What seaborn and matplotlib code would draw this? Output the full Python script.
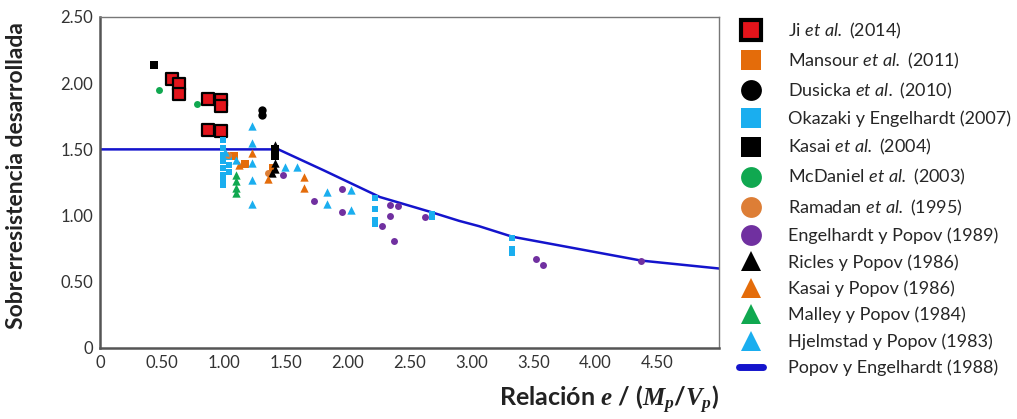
import matplotlib.pyplot as plt
from matplotlib.lines import Line2D
import seaborn as sns

# Ji et al. (2014)
ji_x = [0.58, 0.64, 0.64, 0.87, 0.98, 0.98, 0.87, 0.98]
ji_y = [2.03, 1.99, 1.92, 1.88, 1.87, 1.83, 1.65, 1.64]
# Mansour et al. (2011)
mansour_x = [1.08, 1.17, 1.40]
mansour_y = [1.45, 1.39, 1.36]
# Dusicka et al. (2010)
dusicka_x = [1.31, 1.31]
dusicka_y = [1.80, 1.76]
# Okazaki y Engelhardt (2007)
okazaki_x = [0.99, 0.99, 0.99, 0.99, 0.99, 0.99, 0.99, 0.99, 1.04, 1.04, 1.04,
             2.22, 2.22, 2.22, 2.22, 2.68, 2.68, 3.33, 3.33, 3.33]
okazaki_y = [1.57, 1.51, 1.46, 1.41, 1.36, 1.31, 1.27, 1.23, 1.44, 1.38, 1.33,
             1.13, 1.05, 0.97, 0.94, 0.99, 1.01, 0.83, 0.75, 0.72]
# Kasai et al. (2004)
kasai04_x = [0.44, 1.41, 1.41]
kasai04_y = [2.14, 1.50, 1.45]
# McDaniel et al. (2003)
mcdaniel_x = [0.48, 0.78]
mcdaniel_y = [1.95, 1.84]
# Ramadan et al. (1995)
ramadan_x = [1.03, 1.36]
ramadan_y = [1.46, 1.32]
# Engelhardt y Popov (1989)
engel_x = [1.48, 1.73, 1.95, 1.95, 2.28, 2.34, 2.34, 2.41, 2.37, 2.62, 3.52, 3.58, 4.37]
engel_y = [1.31, 1.11, 1.20, 1.03, 0.92, 1.08, 1.00, 1.07, 0.81, 0.99, 0.67, 0.63, 0.66]
# Ricles y Popov (1986)
ricles_x = [1.41, 1.41, 1.41, 1.39]
ricles_y = [1.53, 1.40, 1.35, 1.32]
# Kasai y Popov (1986)
kasai86_x = [1.23, 1.65, 1.65, 1.36, 1.12]
kasai86_y = [1.47, 1.29, 1.21, 1.28, 1.38]
# Malley y Popov (1984)
malley_x = [1.10, 1.10, 1.10, 1.10]
malley_y = [1.31, 1.26, 1.21, 1.17]
# Hjelmstad y Popov (1983)
hjelm_x = [1.23, 1.23, 1.23, 1.23, 1.23, 1.01, 1.49, 1.59, 1.83, 1.83, 2.03, 2.03, 1.10]
hjelm_y = [1.68, 1.55, 1.40, 1.27, 1.09, 1.48, 1.37, 1.37, 1.18, 1.09, 1.19, 1.04, 1.42]
# Popov y Engelhardt (1988)
popov_x = [0, 1.44, 1.81, 2.26, 2.66, 2.90, 3.06, 3.33, 4.37, 5.0]
popov_y = [1.5, 1.50, 1.34, 1.14, 1.03, 0.96, 0.92, 0.84, 0.66, 0.60]

xticks = [0, 0.5, 1.0, 1.5, 2.0, 2.5, 3.0, 3.5, 4.0, 4.5]
xtick_labels = ['0', '0.50', '1.00', '1.50', '2.00', '2.50', '3.00', '3.50', '4.00', '4.50']
yticks = [0, 0.5, 1.0, 1.5, 2.0, 2.5]
ytick_labels = ['0', '0.50', '1.00', '1.50', '2.00', '2.50']

sns.set_style('white')
plt.rcParams['font.family'] = ['Lato', 'DejaVu Sans']
plt.rcParams['mathtext.fontset'] = 'custom'
plt.rcParams['mathtext.rm'] = 'Lato'
plt.rcParams['mathtext.sf'] = 'Lato:italic'
plt.rcParams['mathtext.it'] = 'Liberation Serif:italic:bold'
plt.rcParams['mathtext.bf'] = 'Lato:bold'

RED = '#E3141B'
ORANGE = '#E46C0A'
ORANGE2 = '#DD7E36'
BLUE_L = '#1AAEEF'
GREEN = '#10A850'
PURPLE = '#7030A0'
LINE = '#1414CC'

series = [
    ('Ji $\\mathsf{et\\ al.}$ (2014)', ji_x, ji_y, 's', RED, 'black', 9, 1.6),
    ('Mansour $\\mathsf{et\\ al.}$ (2011)', mansour_x, mansour_y, 's', ORANGE, ORANGE, 6, 0),
    ('Dusicka $\\mathsf{et\\ al.}$ (2010)', dusicka_x, dusicka_y, 'o', 'black', 'black', 6, 0),
    ('Okazaki y Engelhardt (2007)', okazaki_x, okazaki_y, 's', BLUE_L, BLUE_L, 5, 0),
    ('Kasai $\\mathsf{et\\ al.}$ (2004)', kasai04_x, kasai04_y, 's', 'black', 'black', 6, 0),
    ('McDaniel $\\mathsf{et\\ al.}$ (2003)', mcdaniel_x, mcdaniel_y, 'o', GREEN, GREEN, 5, 0),
    ('Ramadan $\\mathsf{et\\ al.}$ (1995)', ramadan_x, ramadan_y, 'o', ORANGE2, ORANGE2, 5, 0),
    ('Engelhardt y Popov (1989)', engel_x, engel_y, 'o', PURPLE, PURPLE, 5, 0),
    ('Ricles y Popov (1986)', ricles_x, ricles_y, '^', 'black', 'black', 6, 0),
    ('Kasai y Popov (1986)', kasai86_x, kasai86_y, '^', ORANGE, ORANGE, 6, 0),
    ('Malley y Popov (1984)', malley_x, malley_y, '^', GREEN, GREEN, 6, 0),
    ('Hjelmstad y Popov (1983)', hjelm_x, hjelm_y, '^', BLUE_L, BLUE_L, 6, 0),
]

fig = plt.figure(figsize=(10.17, 4.19), dpi=100)
ax = fig.add_axes([0.0983, 0.1695, 0.609, 0.790])

sns.lineplot(x=popov_x, y=popov_y, ax=ax, color=LINE, lw=1.8, zorder=2)

handles = []
for label, xs, ys, marker, fc, ec, size, ew in series:
    sns.scatterplot(x=xs, y=ys, ax=ax, marker=marker, color=fc, edgecolor=ec,
                    s=size ** 2, linewidth=ew, zorder=3)
    handles.append(Line2D([], [], marker=marker, linestyle='none', markersize=15,
                          markerfacecolor=fc, markeredgecolor=ec,
                          markeredgewidth=3 if ew else 0, label=label))
handles.append(Line2D([], [], color=LINE, lw=5, label='Popov y Engelhardt (1988)'))

ax.set_xlim(0, 5)
ax.set_ylim(0, 2.5)
ax.set_xticks(xticks)
ax.set_xticklabels(xtick_labels)
ax.set_yticks(yticks)
ax.set_yticklabels(ytick_labels)
ax.tick_params(axis='both', labelsize=12, colors='#333333', direction='out',
               length=3, width=1, pad=2)
for side in ['left', 'bottom']:
    ax.spines[side].set_color('#555555')
    ax.spines[side].set_linewidth(1.8)
for side in ['top', 'right']:
    ax.spines[side].set_color('#777777')
    ax.spines[side].set_linewidth(1.0)

ax.set_ylabel('Sobrerresistencia desarrollada', fontsize=16.5, fontweight='bold', color='#222222')
ax.yaxis.set_label_coords(-0.118, 0.52)
ax.set_xlabel('Relación $e$ / ($M_p$/$V_p$)', fontsize=18, fontweight='bold', color='#222222')
ax.xaxis.set_label_coords(1.0, -0.11)
ax.xaxis.label.set_horizontalalignment('right')

fig.legend(handles=handles, loc='upper left', bbox_to_anchor=(0.72, 0.968),
           frameon=False, fontsize=13, labelspacing=0.55, handlelength=1.3,
           handletextpad=1.4, borderaxespad=0)

fig.savefig('out.png', dpi=100)
